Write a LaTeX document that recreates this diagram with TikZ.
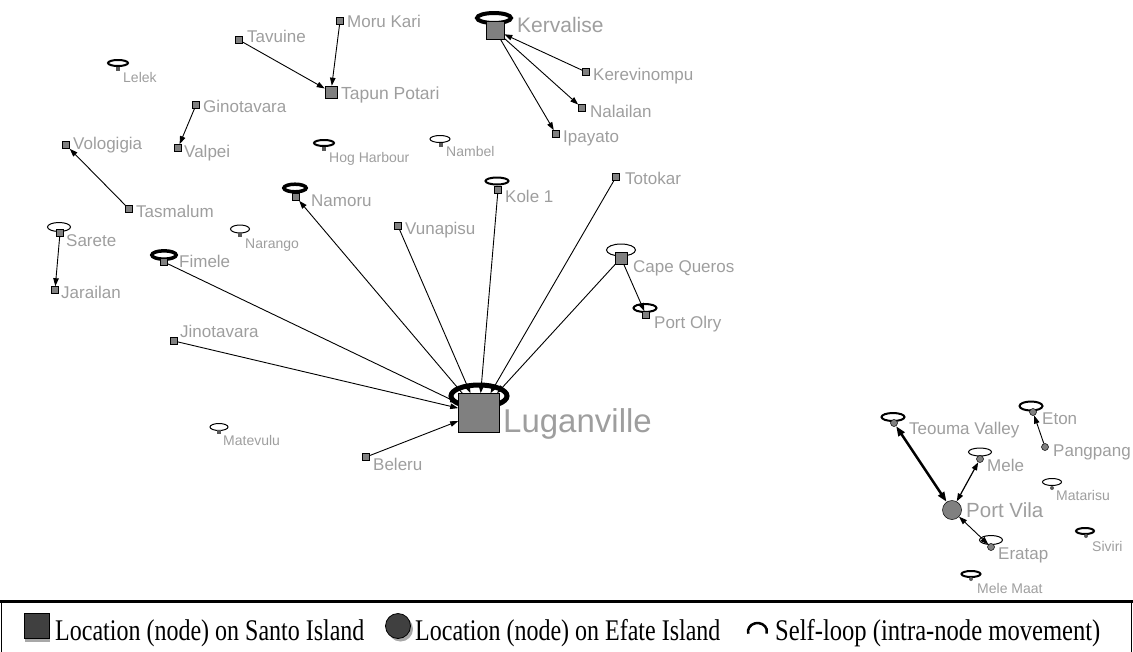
\documentclass[tikz,border=0pt]{standalone}
\usepackage{fontspec}
\usepackage{graphicx}
\setmainfont{Liberation Serif}
\newfontfamily\labelfont{Liberation Sans}
\usetikzlibrary{arrows.meta}
\definecolor{nodegray}{HTML}{808080}
\definecolor{labelgray}{HTML}{9E9E9E}
\definecolor{keyfill}{HTML}{404040}
\definecolor{keyshade}{HTML}{A8A8A8}

\begin{document}
\begin{tikzpicture}[x=1pt,y=-1pt,
  santo/.style={draw=black, fill=nodegray, line width=0.6pt, inner sep=0pt, minimum size=#1},
  santo/.default=7pt,
  efate/.style={circle, draw=black, fill=nodegray, line width=0.5pt, inner sep=0pt, minimum size=#1},
  efate/.default=7pt,
  tinysq/.style={fill=black!65, inner sep=0pt, minimum size=4pt},
  tinydot/.style={circle, fill=black!65, inner sep=0pt, minimum size=4pt},
  lbl/.style={anchor=west, inner sep=0pt, text=labelgray,
    font=\labelfont\fontsize{17}{17}\selectfont, text height=12.2pt, text depth=0pt},
  lbls/.style={lbl, font=\labelfont\fontsize{14}{14}\selectfont, text height=10pt},
  thinloop/.style={draw=black, line width=1pt},
  medloop/.style={draw=black, line width=2pt},
  flow/.style={draw=black, line width=0.9pt, -{Triangle[length=8pt,width=5.5pt]}},
  flowtwo/.style={draw=black, line width=0.9pt,
    {Triangle[length=8pt,width=5.5pt]}-{Triangle[length=8pt,width=5.5pt]}},
  keytext/.style={anchor=base west, inner sep=0pt, font=\fontsize{30}{30}\selectfont},
]
\useasboundingbox (0,0) rectangle (1133,651);

% ---- self-loops (drawn first, nodes sit on top) ----
\draw[medloop] (118,63) ellipse [x radius=10pt, y radius=3pt];
\draw[medloop] (324,143) ellipse [x radius=10pt, y radius=3pt];
\draw[draw=black, line width=3.5pt] (295,188) ellipse [x radius=11.2pt, y radius=3.8pt];
\draw[draw=black, line width=4pt] (494,18) ellipse [x radius=17pt, y radius=5pt];
\draw[thinloop] (440,139) ellipse [x radius=10pt, y radius=3.5pt];
\draw[medloop] (497,181) ellipse [x radius=11.5pt, y radius=3.5pt];
\draw[thinloop] (59,227) ellipse [x radius=11.5pt, y radius=4.5pt];
\draw[thinloop] (240,229) ellipse [x radius=9.5pt, y radius=4pt];
\draw[draw=black, line width=3.5pt] (164,255) ellipse [x radius=12.2pt, y radius=4.2pt];
\draw[thinloop] (219,427) ellipse [x radius=9pt, y radius=3.5pt];
\draw[thinloop] (621,250) ellipse [x radius=14.5pt, y radius=6pt];
\draw[medloop] (645,308) ellipse [x radius=11.5pt, y radius=4pt];
\draw[draw=black, line width=5pt] (479,396) ellipse [x radius=28pt, y radius=11pt];
\draw[medloop] (893,417) ellipse [x radius=11.5pt, y radius=4pt];
\draw[medloop] (1031,406) ellipse [x radius=11.5pt, y radius=4.5pt];
\draw[thinloop] (980,452) ellipse [x radius=11.5pt, y radius=4pt];
\draw[thinloop] (1052,482) ellipse [x radius=9.5pt, y radius=3.5pt];
\draw[thinloop] (991,540) ellipse [x radius=11.5pt, y radius=4.5pt];
\draw[medloop] (1085,531) ellipse [x radius=9pt, y radius=3pt];
\draw[medloop] (971,574) ellipse [x radius=9.5pt, y radius=3pt];

% ---- Santo Island locations ----
\node[santo] (moru) at (340,21) {};
\node[santo] (tavuine) at (239,40) {};
\node[santo=12pt] (tapun) at (331,92) {};
\node[santo] (ginotavara) at (196,105) {};
\node[santo] (valpei) at (178,148) {};
\node[santo] (vologigia) at (66,145) {};
\node[santo] (tasmalum) at (129,209) {};
\node[santo] (namoru) at (296,197) {};
\node[santo=18pt] (kervalise) at (495,30) {};
\node[santo] (kerevinompu) at (586,72) {};
\node[santo] (nalailan) at (582,108) {};
\node[santo] (ipayato) at (556,134) {};
\node[santo] (kole) at (498,190) {};
\node[santo] (totokar) at (616,177) {};
\node[santo] (vunapisu) at (398,226) {};
\node[santo] (sarete) at (60,233) {};
\node[santo] (fimele) at (164,262) {};
\node[santo] (jarailan) at (55,290) {};
\node[santo=12pt] (capequeros) at (621,258) {};
\node[santo] (portolry) at (646,315) {};
\node[santo] (jinotavara) at (174,341) {};
\node[santo, minimum width=41pt, minimum height=39pt] (luganville) at (479,413) {};
\node[santo] (beleru) at (366,457) {};
\node[tinysq] (lelek) at (118,69) {};
\node[tinysq] (hog) at (324,149) {};
\node[tinysq] (nambel) at (441,145) {};
\node[tinysq] (narango) at (240,235) {};
\node[tinysq] (matevulu) at (219,432) {};

% ---- Efate Island locations ----
\node[efate] (teouma) at (894,423) {};
\node[efate] (eton) at (1033,412) {};
\node[efate] (pangpang) at (1045,447) {};
\node[efate] (mele) at (980,459) {};
\node[efate=19pt] (portvila) at (952,510) {};
\node[efate] (eratap) at (991,547) {};
\node[tinydot] (matarisu) at (1052,488) {};
\node[tinydot] (siviri) at (1086,536) {};
\node[tinydot] (melemaat) at (971,579) {};

% ---- labels ----
\node[lbl] (l-moru) at (347,21) {Moru Kari};
\node[lbl] (l-tavuine) at (247,36) {Tavuine};
\node[lbl, font=\labelfont\fontsize{17.5}{17.5}\selectfont] (l-tapun) at (341,93) {Tapun Potari};
\node[lbls] (l-lelek) at (123,77) {Lelek};
\node[lbl] (l-ginotavara) at (203,106) {Ginotavara};
\node[lbl] (l-valpei) at (184,151) {Valpei};
\node[lbl] (l-vologigia) at (73,143) {Vologigia};
\node[lbl] (l-tasmalum) at (136,211) {Tasmalum};
\node[lbls] (l-hog) at (329,157) {Hog Harbour};
\node[lbls] (l-nambel) at (446,151) {Nambel};
\node[lbl, font=\labelfont\fontsize{21}{21}\selectfont, text height=15pt] (l-kervalise) at (517,25) {Kervalise};
\node[lbl] (l-kerevinompu) at (593,74) {Kerevinompu};
\node[lbl] (l-nalailan) at (590,111) {Nalailan};
\node[lbl] (l-ipayato) at (563,136) {Ipayato};
\node[lbl] (l-kole) at (505,196) {Kole 1};
\node[lbl] (l-totokar) at (625,178) {Totokar};
\node[lbl] (l-namoru) at (311,200) {Namoru};
\node[lbl] (l-vunapisu) at (405,228) {Vunapisu};
\node[lbl] (l-sarete) at (66,240) {Sarete};
\node[lbls] (l-narango) at (245,243) {Narango};
\node[lbl] (l-fimele) at (179,261) {Fimele};
\node[lbl] (l-jarailan) at (61,292) {Jarailan};
\node[lbl] (l-capequeros) at (633,266) {Cape Queros};
\node[lbl] (l-portolry) at (654,322) {Port Olry};
\node[lbl] (l-jinotavara) at (180,331) {Jinotavara};
\node[lbl, font=\labelfont\fontsize{33}{33}\selectfont, text height=23.6pt] (l-luganville) at (503,421) {Luganville};
\node[lbls] (l-matevulu) at (223,440) {Matevulu};
\node[lbl] (l-beleru) at (373,464) {Beleru};
\node[lbl] (l-teouma) at (909,428) {Teouma Valley};
\node[lbl] (l-eton) at (1042,418) {Eton};
\node[lbl] (l-pangpang) at (1053,450) {Pangpang};
\node[lbl] (l-mele) at (987,465) {Mele};
\node[lbls] (l-matarisu) at (1056,495) {Matarisu};
\node[lbl, font=\labelfont\fontsize{20.5}{20.5}\selectfont, text height=14.7pt] (l-portvila) at (966,510) {Port Vila};
\node[lbl] (l-eratap) at (998,553) {Eratap};
\node[lbls] (l-siviri) at (1092,546) {Siviri};
\node[lbls] (l-melemaat) at (977,588) {Mele Maat};

% ---- movements between locations ----
\draw[flow] (tavuine) -- (tapun);
\draw[flow] (moru) -- (tapun);
\draw[flow] (ginotavara) -- (valpei);
\draw[flow] (tasmalum) -- (vologigia);
\draw[flow] (sarete) -- (jarailan);
\draw[flow] (kerevinompu) -- (kervalise);
\draw[flow] (kervalise) -- (nalailan);
\draw[flow] (kervalise) -- (ipayato);
\draw[flow] (luganville) -- (namoru);
\draw[flow] (fimele) -- (luganville);
\draw[flow] (jinotavara) -- (luganville);
\draw[flow] (beleru) -- (luganville);
\draw[flow] (vunapisu) -- (luganville);
\draw[flow] (kole) -- (luganville);
\draw[flow] (totokar) -- (luganville);
\draw[flow] (capequeros) -- (luganville);
\draw[flow] (capequeros) -- (portolry);
\draw[flow] (pangpang) -- (eton);
\draw[flowtwo, line width=2.5pt,
  {Triangle[length=10pt,width=7pt]}-{Triangle[length=10pt,width=7pt]}] (teouma) -- (portvila);
\draw[flowtwo, line width=1.2pt] (mele) -- (portvila);
\draw[flowtwo] (eratap) -- (portvila);

% ---- key ----
\draw[line width=1.5pt] (1.5,601) -- (1.5,660) (1131.5,601) -- (1131.5,660);
\draw[line width=3pt] (0,601) -- (1133,601);
\node[fill=keyshade, inner sep=0pt, minimum size=25pt] (k-sqshade) at (37,629.5) {};
\node[draw=black, fill=keyfill, line width=0.8pt, inner sep=0pt, minimum size=25pt] (k-sq) at (36.5,625.5) {};
\node[keytext] (k-santo) at (55,640) {\scalebox{0.8}[1]{Location (node) on Santo Island}};
\node[circle, fill=keyshade, inner sep=0pt, minimum size=25pt] (k-cishade) at (400.5,629) {};
\node[circle, draw=black, fill=keyfill, line width=0.8pt, inner sep=0pt, minimum size=25pt] (k-ci) at (398,626) {};
\node[keytext] (k-efate) at (415,640) {\scalebox{0.8}[1]{Location (node) on Efate Island}};
\coordinate (k-arc) at (757.5,631.5);
\draw[line width=2.5pt] (k-arc) ++(195:9.5pt and 8.5pt)
  arc [start angle=195, end angle=-15, x radius=9.5pt, y radius=8.5pt];
\node[keytext] (k-loop) at (775,640) {\scalebox{0.82}[1]{Self-loop (intra-node movement)}};
\end{tikzpicture}
\end{document}
